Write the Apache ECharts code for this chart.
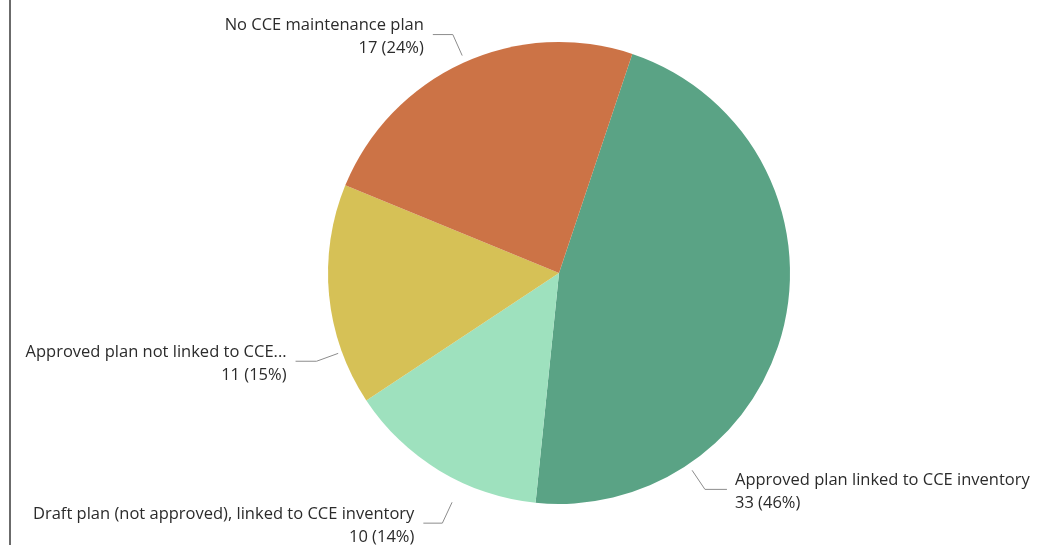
<!DOCTYPE html>
<html>
<head>
<meta charset="utf-8">
<title>CCE maintenance plan</title>
<script src="https://cdn.jsdelivr.net/npm/echarts@6/dist/echarts.min.js"></script>
<style>
  html, body { margin: 0; padding: 0; background: #fff; }
  #chart { width: 1043px; height: 545px; }
</style>
</head>
<body>
<div id="chart"></div>
<script>
// data (clockwise from the green slice)
const categories = [
  "Approved plan linked to CCE inventory",
  "Draft plan (not approved), linked to CCE inventory",
  "Approved plan not linked to CCE...",
  "No CCE maintenance plan"
];
const counts = [33, 10, 11, 17];

// styling
const sliceColors = ["#5aa385", "#9ee1be", "#d6c156", "#cc7346"];
const CX = 559, CY = 273, R = 231;
// where each leader line leaves the pie: angle clockwise from 12 o'clock, gap, radial length
const leaders = [
  { angle: 146, gap: 7, len: 23, h: 22 },
  { angle: 205, gap: 22, len: 23, h: 19 },
  { angle: 250, gap: 4, len: 23, h: 21 },
  { angle: 336, gap: 7, len: 23, h: 20 }
];

const chart = echarts.init(document.getElementById("chart"));

chart.setOption({
  animation: false,
  color: sliceColors,
  graphic: [
    {
      type: "line",
      shape: { x1: 10, y1: 0, x2: 10, y2: 545 },
      style: { stroke: "#3a3a3a", lineWidth: 1.5 }
    }
  ],
  series: [
    {
      type: "pie",
      center: [CX, CY],
      radius: R,
      startAngle: 71.5,
      clockwise: true,
      avoidLabelOverlap: false,
      data: categories.map((name, i) => ({ name: name, value: counts[i] })),
      label: {
        show: true,
        position: "outside",
        fontFamily: "Open Sans",
        fontSize: 16.5,
        lineHeight: 23,
        color: "#2b2b2b",
        formatter: (p) => p.name + "\n" + p.value + " (" + Math.round(p.percent) + "%)"
      },
      labelLine: {
        show: true,
        lineStyle: { color: "#8c8c8c", width: 1 }
      },
      labelLayout: function (params) {
        const L = leaders[params.dataIndex];
        const a = L.angle * Math.PI / 180;
        const dx = Math.sin(a), dy = -Math.cos(a);
        const r1 = R + L.gap, r2 = r1 + L.len;
        const p1 = [CX + dx * r1, CY + dy * r1];
        const p2 = [CX + dx * r2, CY + dy * r2];
        const right = dx >= 0;
        const p3 = [p2[0] + (right ? L.h : -L.h), p2[1]];
        return {
          x: p3[0] + (right ? 8 : -9),
          y: p3[1] + 2.5,
          align: right ? "left" : "right",
          verticalAlign: "middle",
          labelLinePoints: [p1, p2, p3]
        };
      },
      emphasis: { disabled: true }
    }
  ]
});
</script>
</body>
</html>
